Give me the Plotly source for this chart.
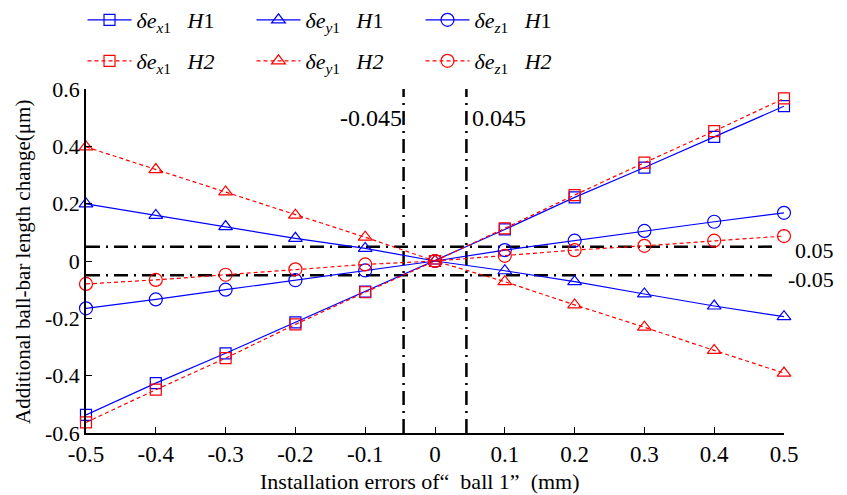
import plotly.graph_objects as go

x_vals = [-0.5, -0.4, -0.3, -0.2, -0.1, 0.0, 0.1, 0.2, 0.3, 0.4, 0.5]

ex_h1 = [-0.537, -0.426, -0.322, -0.214, -0.107, 0.0, 0.110, 0.222, 0.326, 0.433, 0.540]
ey_h1 = [0.199, 0.159, 0.120, 0.079, 0.044, 0.0, -0.034, -0.072, -0.115, -0.157, -0.194]
ez_h1 = [-0.165, -0.134, -0.100, -0.067, -0.033, 0.0, 0.038, 0.071, 0.105, 0.137, 0.168]

ex_h2 = [-0.563, -0.449, -0.339, -0.221, -0.109, 0.0, 0.114, 0.230, 0.343, 0.453, 0.567]
ey_h2 = [0.398, 0.319, 0.241, 0.160, 0.083, 0.0, -0.072, -0.153, -0.231, -0.312, -0.391]
ez_h2 = [-0.080, -0.066, -0.048, -0.029, -0.012, 0.0, 0.018, 0.038, 0.053, 0.071, 0.087]

h_limits = [0.05, -0.05]
v_limits = [-0.045, 0.045]

x_ticks = [-0.5, -0.4, -0.3, -0.2, -0.1, 0, 0.1, 0.2, 0.3, 0.4, 0.5]
x_ticklabels = ["-0.5", "-0.4", "-0.3", "-0.2", "-0.1", "0", "0.1", "0.2", "0.3", "0.4", "0.5"]
y_ticks = [-0.6, -0.4, -0.2, 0, 0.2, 0.4, 0.6]
y_ticklabels = ["-0.6", "-0.4", "-0.2", "0", "0.2", "0.4", "0.6"]

FONT = "Liberation Serif, Times New Roman, serif"
BLUE = "#0000ff"
RED = "#ff0000"
SP = "&nbsp;&nbsp;&nbsp;"

names_h1 = [
    "<i>δe</i><sub><i>x</i>1</sub>" + SP + "<i>H</i>1",
    "<i>δe</i><sub><i>y</i>1</sub>" + SP + "<i>H</i>1",
    "<i>δe</i><sub><i>z</i>1</sub>" + SP + "<i>H</i>1",
]
names_h2 = [
    "<i>δe</i><sub><i>x</i>1</sub>" + SP + "<i>H2</i>",
    "<i>δe</i><sub><i>y</i>1</sub>" + SP + "<i>H2</i>",
    "<i>δe</i><sub><i>z</i>1</sub>" + SP + "<i>H2</i>",
]
symbols = ["square-open", "triangle-up-open", "circle-open"]
sizes = [11, 12, 13]

fig = go.Figure()

DASHDOT = "14px,6px,2px,6px"
for v in v_limits:
    fig.add_trace(go.Scatter(x=[v, v], y=[-0.6, 0.6], mode="lines",
                             line=dict(color="black", width=2.5, dash=DASHDOT),
                             showlegend=False, hoverinfo="skip"))
for h in h_limits:
    fig.add_trace(go.Scatter(x=[-0.5, 0.49], y=[h, h], mode="lines",
                             line=dict(color="black", width=2.5, dash=DASHDOT),
                             showlegend=False, hoverinfo="skip"))

for ys, nm, sym, sz in zip([ex_h1, ey_h1, ez_h1], names_h1, symbols, sizes):
    fig.add_trace(go.Scatter(x=x_vals, y=ys, name=nm, mode="lines+markers",
                             line=dict(color=BLUE, width=1.2),
                             marker=dict(symbol=sym, size=sz, color=BLUE, line=dict(width=1.2, color=BLUE)),
                             cliponaxis=False, legend="legend"))
for ys, nm, sym, sz in zip([ex_h2, ey_h2, ez_h2], names_h2, symbols, sizes):
    fig.add_trace(go.Scatter(x=x_vals, y=ys, name=nm, mode="lines+markers",
                             line=dict(color=RED, width=1.2, dash="4px,3px"),
                             marker=dict(symbol=sym, size=sz, color=RED, line=dict(width=1.2, color=RED)),
                             cliponaxis=False, legend="legend2"))

legend_common = dict(orientation="h", xanchor="left", yanchor="middle",
                     font=dict(family=FONT, size=22, color="black"),
                     bgcolor="rgba(0,0,0,0)", entrywidth=110, entrywidthmode="pixels",
                     itemwidth=44, tracegroupgap=0)

# page body adds an 8px offset; figure sized so it ends at the window edge
fig.update_layout(
    width=839, height=487,
    margin=dict(l=78, r=63, t=81, b=62, autoexpand=False),
    paper_bgcolor="white", plot_bgcolor="white",
    font=dict(family=FONT, size=21, color="black"),
    legend=dict(x=-0.005, y=(433 - 20) / 344, **legend_common),
    legend2=dict(x=-0.005, y=(433 - 61) / 344, **legend_common),
    xaxis=dict(range=[-0.5, 0.5], tickvals=x_ticks, ticktext=x_ticklabels,
               ticks="inside", ticklen=6, tickwidth=1, tickcolor="black",
               showline=True, linecolor="black", linewidth=1.5, mirror=False,
               showgrid=False, zeroline=False, automargin=False,
               tickfont=dict(family=FONT, size=23)),
    yaxis=dict(range=[-0.6, 0.6], tickvals=y_ticks, ticktext=y_ticklabels,
               ticks="inside", ticklen=6, tickwidth=1, tickcolor="black",
               showline=True, linecolor="black", linewidth=1.5, mirror=False,
               showgrid=False, zeroline=False, automargin=False,
               tickfont=dict(family=FONT, size=22)),
    showlegend=True,
)

# axis titles
fig.add_annotation(x=(420 - 86) / 698, y=(433 - 481) / 344, xref="paper", yref="paper",
                   text="Installation errors of“  ball 1”  (mm)", showarrow=False,
                   xanchor="center", yanchor="middle", font=dict(family=FONT, size=22))
fig.add_annotation(x=(23 - 86) / 698, y=(433 - 262) / 344, xref="paper", yref="paper",
                   text="Additional ball-bar length change(μm)", showarrow=False, textangle=-90,
                   xanchor="center", yanchor="middle", font=dict(family=FONT, size=21))

# limit labels
fig.add_annotation(x=v_limits[0], y=0.50, xref="x", yref="y", text="-0.045", showarrow=False,
                   xanchor="right", yanchor="middle", xshift=0, font=dict(family=FONT, size=24))
fig.add_annotation(x=v_limits[1], y=0.50, xref="x", yref="y", text="0.045", showarrow=False,
                   xanchor="left", yanchor="middle", xshift=4, font=dict(family=FONT, size=24))
fig.add_annotation(x=(836 - 86) / 698, y=h_limits[0], xref="paper", yref="y", text="0.05", showarrow=False,
                   xanchor="right", yanchor="middle", yshift=-4, font=dict(family=FONT, size=22))
fig.add_annotation(x=(836 - 86) / 698, y=h_limits[1], xref="paper", yref="y", text="-0.05", showarrow=False,
                   xanchor="right", yanchor="middle", yshift=-4, font=dict(family=FONT, size=22))

fig.write_html("out.html")
